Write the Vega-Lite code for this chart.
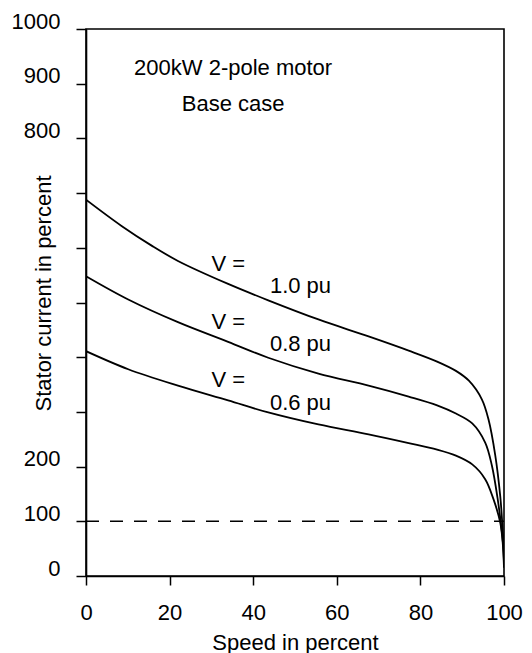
{
  "$schema": "https://vega.github.io/schema/vega-lite/v6.json",
  "width": 418,
  "height": 547,
  "padding": {"left": 11, "top": 10, "right": 5, "bottom": 0},
  "background": "white",
  "config": {
    "view": {"stroke": "black", "strokeWidth": 1.6},
    "font": "Liberation Sans",
    "axis": {
      "grid": false,
      "domainColor": "black",
      "domainWidth": 1.6,
      "tickColor": "black",
      "tickWidth": 1.5,
      "labelFont": "Liberation Sans",
      "labelFontSize": 22,
      "labelColor": "black",
      "titleFont": "Liberation Sans",
      "titleFontSize": 22,
      "titleFontWeight": "normal",
      "titleColor": "black"
    }
  },
  "datasets": {
    "curves": [
      {"speed": 0, "current": 688, "v": "1.0"},
      {"speed": 8.5, "current": 640, "v": "1.0"},
      {"speed": 15.7, "current": 604, "v": "1.0"},
      {"speed": 22, "current": 576, "v": "1.0"},
      {"speed": 34, "current": 534, "v": "1.0"},
      {"speed": 43.6, "current": 504, "v": "1.0"},
      {"speed": 55.6, "current": 469, "v": "1.0"},
      {"speed": 67.6, "current": 438, "v": "1.0"},
      {"speed": 77.2, "current": 412, "v": "1.0"},
      {"speed": 84, "current": 392, "v": "1.0"},
      {"speed": 88.5, "current": 375, "v": "1.0"},
      {"speed": 91.6, "current": 357, "v": "1.0"},
      {"speed": 94.7, "current": 323, "v": "1.0"},
      {"speed": 96.3, "current": 286, "v": "1.0"},
      {"speed": 97.9, "current": 221, "v": "1.0"},
      {"speed": 99.1, "current": 146, "v": "1.0"},
      {"speed": 99.6, "current": 95, "v": "1.0"},
      {"speed": 99.9, "current": 55, "v": "1.0"},
      {"speed": 100, "current": 20, "v": "1.0"},
      {"speed": 0, "current": 548, "v": "0.8"},
      {"speed": 10.1, "current": 505.5, "v": "0.8"},
      {"speed": 22, "current": 464, "v": "0.8"},
      {"speed": 34, "current": 428, "v": "0.8"},
      {"speed": 43.6, "current": 399, "v": "0.8"},
      {"speed": 55.6, "current": 370, "v": "0.8"},
      {"speed": 67.6, "current": 348, "v": "0.8"},
      {"speed": 77.2, "current": 328, "v": "0.8"},
      {"speed": 84, "current": 312, "v": "0.8"},
      {"speed": 88.5, "current": 297, "v": "0.8"},
      {"speed": 92.4, "current": 279, "v": "0.8"},
      {"speed": 95.5, "current": 244, "v": "0.8"},
      {"speed": 97.1, "current": 202, "v": "0.8"},
      {"speed": 98.5, "current": 140, "v": "0.8"},
      {"speed": 99.5, "current": 80, "v": "0.8"},
      {"speed": 99.9, "current": 45, "v": "0.8"},
      {"speed": 100, "current": 18, "v": "0.8"},
      {"speed": 0, "current": 411, "v": "0.6"},
      {"speed": 10.1, "current": 378, "v": "0.6"},
      {"speed": 22, "current": 348, "v": "0.6"},
      {"speed": 34, "current": 321, "v": "0.6"},
      {"speed": 43.6, "current": 299, "v": "0.6"},
      {"speed": 55.6, "current": 277, "v": "0.6"},
      {"speed": 67.6, "current": 259, "v": "0.6"},
      {"speed": 77.2, "current": 243, "v": "0.6"},
      {"speed": 84, "current": 231, "v": "0.6"},
      {"speed": 88.5, "current": 220, "v": "0.6"},
      {"speed": 92.4, "current": 204, "v": "0.6"},
      {"speed": 95.5, "current": 177, "v": "0.6"},
      {"speed": 97.5, "current": 140, "v": "0.6"},
      {"speed": 99.1, "current": 97.6, "v": "0.6"},
      {"speed": 99.7, "current": 60, "v": "0.6"},
      {"speed": 100, "current": 15, "v": "0.6"}
    ],
    "rated": [
      {"speed": 0, "current": 100},
      {"speed": 100, "current": 100}
    ],
    "centerText": [
      {"speed": 35.2, "current": 929, "label": "200kW 2-pole motor"},
      {"speed": 35.2, "current": 863.5, "label": "Base case"}
    ],
    "leftText": [
      {"speed": 30.0, "current": 570, "label": "V ="},
      {"speed": 44.0, "current": 530, "label": "1.0 pu"},
      {"speed": 30.0, "current": 463.5, "label": "V ="},
      {"speed": 44.0, "current": 424.5, "label": "0.8 pu"},
      {"speed": 30.0, "current": 358.5, "label": "V ="},
      {"speed": 44.0, "current": 316.5, "label": "0.6 pu"}
    ]
  },
  "encoding": {
    "x": {
      "field": "speed",
      "type": "quantitative",
      "scale": {"domain": [0, 100], "nice": false, "zero": false},
      "axis": {
        "title": "Speed in percent",
        "values": [0, 20, 40, 60, 80, 100],
        "format": "d",
        "tickSize": 9,
        "labelPadding": 17,
        "labelFlush": false,
        "labelOverlap": false,
        "titleBaseline": "alphabetic",
        "titleY": 73
      }
    },
    "y": {
      "field": "current",
      "type": "quantitative",
      "scale": {"domain": [0, 1000], "nice": false, "zero": false},
      "axis": {
        "title": "Stator current in percent",
        "values": [0, 100, 200, 300, 400, 500, 600, 700, 800, 900, 1000],
        "format": "d",
        "labelExpr": "datum.value >= 300 && datum.value <= 700 ? '' : datum.label",
        "tickSize": 10,
        "labelPadding": 16,
        "labelOffset": -8,
        "labelFlush": false,
        "labelOverlap": false,
        "titleX": -43,
        "titleY": 264,
        "titleAlign": "center",
        "titleBaseline": "middle",
        "titleAngle": 270
      }
    }
  },
  "layer": [
    {
      "data": {"name": "curves"},
      "mark": {"type": "line", "color": "black", "strokeWidth": 1.8, "interpolate": "catmull-rom", "clip": true},
      "encoding": {"detail": {"field": "v", "type": "nominal"}}
    },
    {
      "data": {"name": "rated"},
      "mark": {"type": "line", "color": "black", "strokeWidth": 1.5, "strokeDash": [13, 11]},
      "encoding": {}
    },
    {
      "data": {"name": "centerText"},
      "mark": {"type": "text", "align": "center", "baseline": "middle", "fontSize": 22, "font": "Liberation Sans", "color": "black"},
      "encoding": {"text": {"field": "label"}}
    },
    {
      "data": {"name": "leftText"},
      "mark": {"type": "text", "align": "left", "baseline": "middle", "fontSize": 22, "font": "Liberation Sans", "color": "black"},
      "encoding": {"text": {"field": "label"}}
    }
  ]
}
